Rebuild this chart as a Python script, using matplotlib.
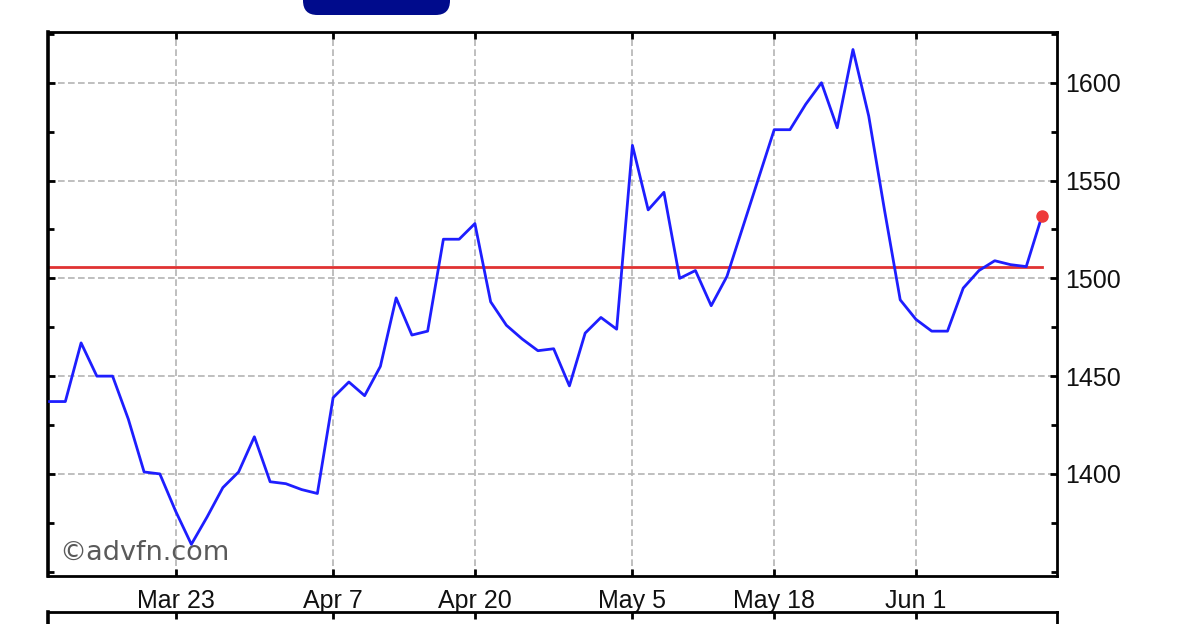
import numpy as np
import matplotlib
matplotlib.use("Agg")
import matplotlib.pyplot as plt
from matplotlib.patches import FancyBboxPatch
from matplotlib.ticker import MultipleLocator

# closing prices, one per trading day
prices = [1437, 1437, 1467, 1450, 1450, 1428, 1401, 1400, 1381, 1364,
          1378, 1393, 1401, 1419, 1396, 1395, 1392, 1390, 1439, 1447,
          1440, 1455, 1490, 1471, 1473, 1520, 1520, 1528, 1488, 1476,
          1469, 1463, 1464, 1445, 1472, 1480, 1474, 1568, 1535, 1544,
          1500, 1504, 1486, 1501, 1526, 1551, 1576, 1576, 1589, 1600,
          1577, 1617, 1583, 1535, 1489, 1479, 1473, 1473, 1495, 1504,
          1509, 1507, 1506, 1532]
avg_level = 1506
tick_idx = [8, 18, 27, 37, 46, 55]
tick_labels = ["Mar 23", "Apr 7", "Apr 20", "May 5", "May 18", "Jun 1"]
y_ticks = [1400, 1450, 1500, 1550, 1600]

lab_font = ["Liberation Sans Narrow", "Liberation Sans", "DejaVu Sans"]

fig = plt.figure(figsize=(12, 6.24), dpi=100)
fig.patch.set_facecolor("white")

ax = fig.add_axes([0.04, 0.0769, 0.8408, 0.8726])
x = np.arange(len(prices))

ax.grid(True, color="#b4b4b4", linestyle=(0, (4, 2)), linewidth=1.2)
ax.set_axisbelow(True)

ax.plot([x[0], x[-1]], [avg_level, avg_level], color="#e03232", lw=2.0, zorder=2)
ax.plot(x, prices, color="#1e1eff", lw=2.0, zorder=3)
ax.plot(x[-1], prices[-1], "o", color="#ee3a3a", markersize=8, zorder=4)

ax.set_xlim(-0.1, 63.95)
ax.set_ylim(1347.8, 1626.2)
ax.set_xticks(tick_idx)
ax.set_xticklabels(tick_labels)
ax.set_yticks(y_ticks)
ax.yaxis.set_minor_locator(MultipleLocator(25))

ax.yaxis.tick_right()
ax.tick_params(axis="both", which="both", direction="in", color="black",
               left=True, right=True, top=True, bottom=True)
ax.tick_params(axis="y", which="major", length=5, width=2, pad=6)
ax.tick_params(axis="y", which="minor", length=4, width=2)
ax.tick_params(axis="x", which="major", length=5, width=2, pad=9)
for lab in ax.get_xticklabels() + ax.get_yticklabels():
    lab.set_family(lab_font)
    lab.set_fontsize(18)
    lab.set_color("#111111")

for side in ["left", "right", "top", "bottom"]:
    ax.spines[side].set_color("black")
    ax.spines[side].set_linewidth(2)
ax.spines["left"].set_linewidth(2.6)

ax.text(0.011, 0.03, "\u00a9advfn.com", transform=ax.transAxes,
        fontsize=19.5, color="#5a5a5a", family="DejaVu Sans", zorder=1)

# lower panel, cut off by the figure edge
ax2 = fig.add_axes([0.04, -0.08, 0.8408, 0.099])
ax2.set_xlim(-0.1, 63.95)
ax2.set_xticks(tick_idx)
ax2.set_xticklabels([])
ax2.set_yticks([])
ax2.tick_params(axis="x", direction="in", top=True, bottom=False, length=5, width=2)
for side in ["left", "right", "top", "bottom"]:
    ax2.spines[side].set_linewidth(2)
ax2.spines["left"].set_linewidth(2.6)

# dark blue button at the top, partly cut off
btn = FancyBboxPatch((303 / 1200, 1 - 15 / 624), 147 / 1200, 30 / 624,
                     boxstyle="round,pad=0,rounding_size=0.012",
                     transform=fig.transFigure, facecolor="#000b8c",
                     edgecolor="none", mutation_aspect=1200 / 624)
fig.patches.append(btn)

fig.savefig("out.png", dpi=100)
